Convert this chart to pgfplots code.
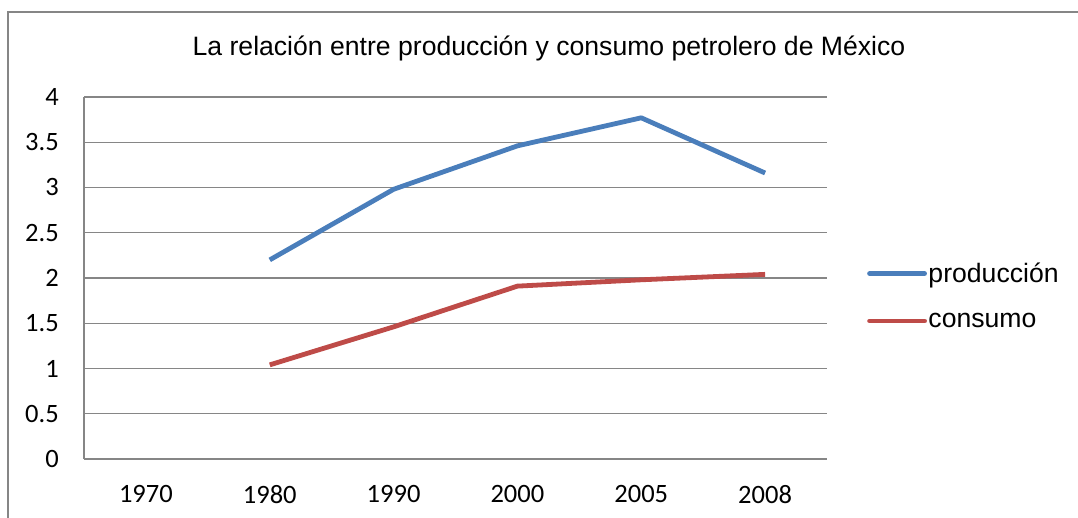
\documentclass[border=0pt]{standalone}
\usepackage{pgfplots}
\pgfplotsset{compat=1.18}
\usepackage{fontspec}
\setmainfont{Liberation Sans}
\newfontfamily\calibri{Carlito}
\definecolor{xblue}{HTML}{4A7EBB}
\definecolor{xred}{HTML}{BE4B48}
\definecolor{xgrid}{HTML}{868686}
\begin{document}
\begin{tikzpicture}[x=1bp,y=1bp]
\useasboundingbox (0,0) rectangle (1078,518);
\draw[xgrid,line width=1.3bp] (8,0) -- (8,506) -- (1078,506);
\node[font=\fontsize{26.6bp}{32bp}\selectfont,inner sep=0] at (549,470) {La relación entre producción y consumo petrolero de México};
\begin{axis}[
  at={(84bp,59bp)}, anchor=south west,
  scale only axis, width=743bp, height=362bp,
  xmin=-0.5, xmax=5.5, ymin=0, ymax=4,
  xtick={0,1,2,3,4,5},
  xticklabels={1970,1980,1990,2000,2005,2008},
  ytick={0,0.5,1,1.5,2,2.5,3,3.5,4},
  yticklabels={0,0.5,1,1.5,2,2.5,3,3.5,4},
  axis x line=bottom, axis y line=left,
  axis line style={xgrid,line width=1.3bp,-},
  ymajorgrids, grid style={xgrid,line width=1.3bp},
  major tick length=0,
  /pgf/number format/assume math mode=true,
  tick label style={font=\calibri\fontsize{26.5bp}{32bp}\selectfont,inner sep=0},
  xticklabel style={yshift=-26bp},
  yticklabel style={xshift=-25bp},
  legend style={at={(1.0538,0.4503)}, anchor=west, draw=none, fill=none,
    inner sep=0, font=\fontsize{26.6bp}{32bp}\selectfont,
    row sep=25bp, cells={anchor=west},
    nodes={inner xsep=1.5bp}},
  legend image code/.code={\draw[#1,line cap=round] (0bp,0bp) -- (55bp,0bp);},
]
\addplot[xblue, line width=4.8bp, line join=round] coordinates {
  (1,2.20) (2,2.98) (3,3.46) (4,3.77) (5,3.16)};
\addlegendentry{producción}
\addplot[xred, line width=4.8bp, line join=round] coordinates {
  (1,1.04) (2,1.46) (3,1.91) (4,1.98) (5,2.04)};
\addlegendentry{consumo}
\end{axis}
\end{tikzpicture}
\end{document}
